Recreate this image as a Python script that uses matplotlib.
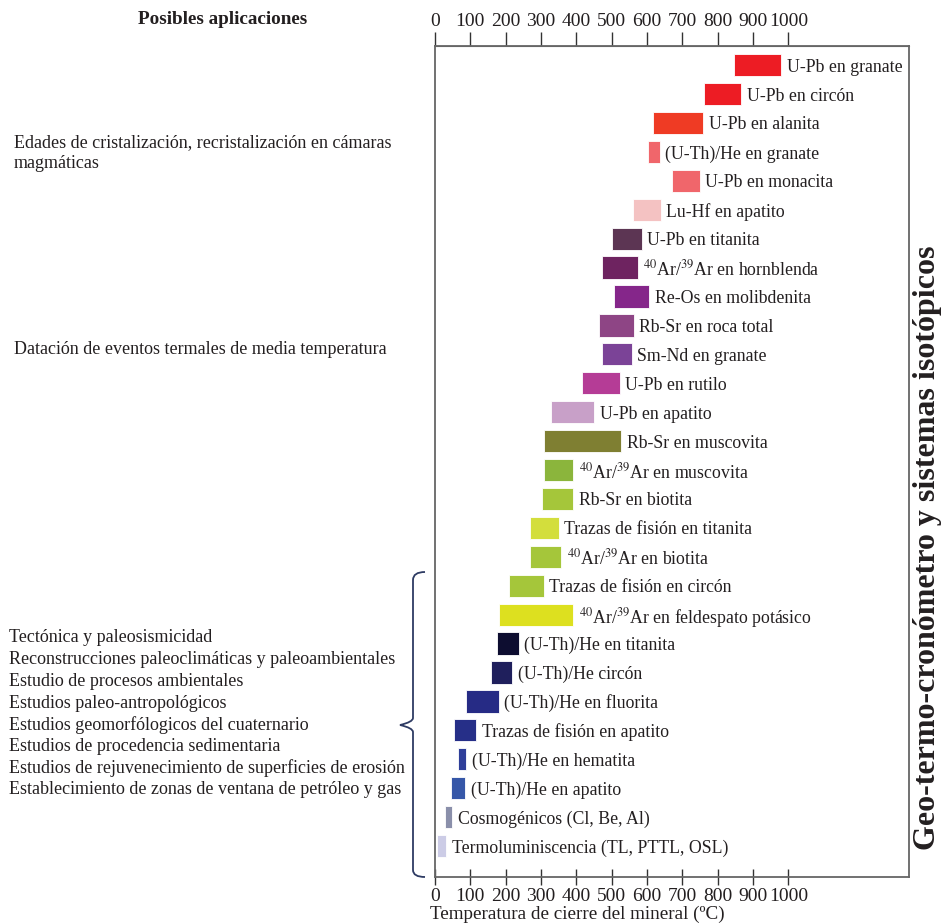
import numpy as np
import matplotlib.pyplot as plt
from matplotlib.path import Path
from matplotlib.patches import PathPatch

plt.rcParams['font.family'] = ['Liberation Serif', 'DejaVu Serif']
plt.rcParams['mathtext.fontset'] = 'stix'

AR = r'$^{40}$Ar/$^{39}$Ar'

# Sistemas isotopicos (de arriba hacia abajo)
sistemas = [
    'U-Pb en granate', 'U-Pb en circón', 'U-Pb en alanita', '(U-Th)/He en granate',
    'U-Pb en monacita', 'Lu-Hf en apatito', 'U-Pb en titanita', AR + ' en hornblenda',
    'Re-Os en molibdenita', 'Rb-Sr en roca total', 'Sm-Nd en granate', 'U-Pb en rutilo',
    'U-Pb en apatito', 'Rb-Sr en muscovita', AR + ' en muscovita', 'Rb-Sr en biotita',
    'Trazas de fisión en titanita', AR + ' en biotita', 'Trazas de fisión en circón',
    AR + ' en feldespato potásico', '(U-Th)/He en titanita', '(U-Th)/He circón',
    '(U-Th)/He en fluorita', 'Trazas de fisión en apatito', '(U-Th)/He en hematita',
    '(U-Th)/He en apatito', 'Cosmogénicos (Cl, Be, Al)', 'Termoluminiscencia (TL, PTTL, OSL)',
]
t_min = [845, 760, 618, 602, 671, 559, 501, 473, 506, 464, 473, 416, 328, 307,
         307, 303, 269, 269, 208, 182, 175, 158, 89, 53, 66, 44, 28, 6]
t_max = [980, 866, 759, 636, 749, 638, 585, 573, 606, 562, 556, 522, 451, 527,
         391, 391, 350, 357, 308, 391, 237, 219, 180, 117, 88, 86, 49, 32]
colores = ['#ED1C24', '#ED1C24', '#EF3B24', '#F0666B', '#F0666B', '#F4C2C2',
           '#5C3553', '#6E2360', '#85268A', '#8E4585', '#7B4397', '#B53C96',
           '#C8A0C8', '#7F7F32', '#8BB53C', '#A5C63A', '#D3DE3C', '#A5C63A',
           '#A5C63A', '#DDE01F', '#0D0D30', '#1F1F5C', '#262B85', '#262F88',
           '#2E3E99', '#3657A8', '#8A8FAA', '#CCCCE6']
ticks = [0, 100, 200, 300, 400, 500, 600, 700, 800, 900, 1000]

aplic_alta = 'Edades de cristalización, recristalización en cámaras\nmagmáticas'
aplic_media = 'Datación de eventos termales de media temperatura'
aplic_baja = ['Tectónica y paleosismicidad',
              'Reconstrucciones paleoclimáticas y paleoambientales',
              'Estudio de procesos ambientales',
              'Estudios paleo-antropológicos',
              'Estudios geomorfólogicos del cuaternario',
              'Estudios de procedencia sedimentaria',
              'Estudios de rejuvenecimiento de superficies de erosión',
              'Establecimiento de zonas de ventana de petróleo y gas']

W, H = 943, 924
fig = plt.figure(figsize=(W / 100, H / 100), dpi=100)
ax = fig.add_axes([435 / W, 1 - 877 / H, (909 - 435) / W, (877 - 46) / H])

y = np.arange(len(sistemas))
lo = np.array(t_min)
hi = np.array(t_max)
ax.barh(y, hi - lo, left=lo, height=0.77, color=colores, edgecolor='white', linewidth=0.6)
for yi, h, s in zip(y, hi, sistemas):
    ax.annotate(s, (h, yi), xytext=(4, 0), textcoords='offset points',
                va='center_baseline', ha='left', fontsize=12.8, color='#231F20')

ax.set_xlim(0, 1341)
ax.set_ylim(len(sistemas) + 0.07, -0.66)
ax.set_yticks([])
ax.set_xticks(ticks)
ax.tick_params(axis='x', direction='inout', length=12, width=1, color='#333333',
               labelsize=14, pad=2, labelcolor='#231F20')
top = ax.secondary_xaxis('top')
top.set_xticks(ticks)
top.tick_params(direction='out', length=10, width=1, color='#333333',
                labelsize=14, pad=1.5, labelcolor='#231F20')
top.spines['top'].set_color('#666666')
for sp in ax.spines.values():
    sp.set_color('#666666')
    sp.set_linewidth(1.3)

fig.text(430 / W, 1 - 914 / H, 'Temperatura de cierre del mineral (ºC)',
         fontsize=13.8, va='center', ha='left', color='#231F20')

# Textos de la izquierda
fig.text(223 / W, 1 - 20 / H, 'Posibles aplicaciones', fontsize=13.8,
         fontweight='bold', ha='center', va='center', color='#231F20')
fig.text(14 / W, 1 - 153 / H, aplic_alta, fontsize=13, ha='left', va='center',
         linespacing=1.3, color='#231F20')
fig.text(14 / W, 1 - 349 / H, aplic_media, fontsize=13, ha='left', va='center',
         color='#231F20')
for i, t in enumerate(aplic_baja):
    fig.text(9 / W, 1 - (638 + i * 21.7) / H, t, fontsize=13, ha='left',
             va='center', color='#231F20')

fig.text(928 / W, 1 - 548 / H, 'Geo-termo-cronómetro y sistemas isotópicos',
         fontsize=23, fontweight='bold', rotation=90, ha='center', va='center',
         color='#231F20')

# Llave
def fp(px, py):
    return (px / W, 1 - py / H)

verts = [fp(425, 572), fp(413, 572), fp(413, 580), fp(413, 718),
         fp(413, 722), fp(400, 725), fp(413, 728), fp(413, 732),
         fp(413, 870), fp(413, 877), fp(425, 877)]
codes = [Path.MOVETO, Path.CURVE3, Path.CURVE3, Path.LINETO,
         Path.CURVE3, Path.CURVE3, Path.CURVE3, Path.CURVE3,
         Path.LINETO, Path.CURVE3, Path.CURVE3]
fig.add_artist(PathPatch(Path(verts, codes), transform=fig.transFigure,
                         fill=False, edgecolor='#2E3B63', linewidth=1.3))

fig.savefig('out.png', dpi=100)
